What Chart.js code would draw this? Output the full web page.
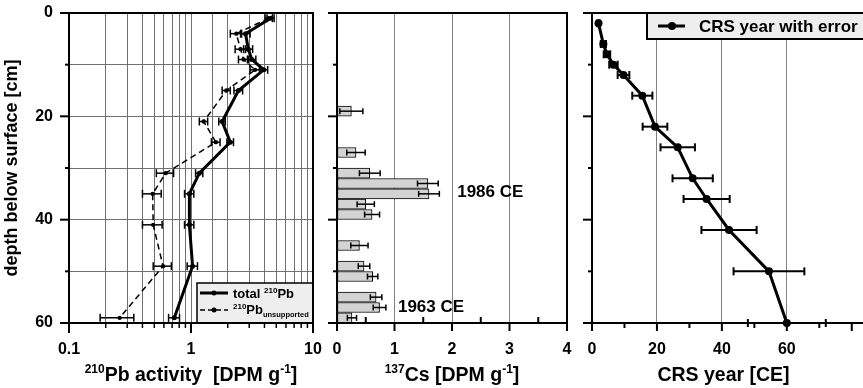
<!DOCTYPE html>
<html>
<head>
<meta charset="utf-8">
<script src="https://cdn.jsdelivr.net/npm/chart.js@4.4.0/dist/chart.umd.min.js"></script>
<style>
  html, body { margin: 0; padding: 0; background: #fff; overflow: hidden; }
  #wrap { position: relative; width: 863px; height: 388px; overflow: hidden; background: #fff; }
  canvas { position: absolute; left: 0; top: 0; }
</style>
</head>
<body>
<div id="wrap">
  <canvas id="pb" width="863" height="388"></canvas>
  <canvas id="cs" width="863" height="388"></canvas>
  <canvas id="crs" width="880" height="388"></canvas>
</div>
<script>
// 210Pb profile (depth in cm, activity in DPM/g)
const pbDepth = [1, 4, 7, 9, 11, 15, 21, 25, 31, 35, 41, 49, 59];
const pbTotal = [4.5, 2.8, 2.95, 3.15, 3.95, 2.45, 1.8, 2.1, 1.17, 0.97, 0.97, 1.03, 0.73];
const pbTotalErr = [0.3, 0.25, 0.25, 0.25, 0.3, 0.2, 0.11, 0.13, 0.08, 0.085, 0.085, 0.1, 0.075];
const pbUnsup = [4.35, 2.35, 2.55, 2.7, 3.35, 1.95, 1.27, 1.6, 0.62, 0.485, 0.49, 0.59, 0.26];
const pbUnsupErr = [0.3, 0.25, 0.25, 0.25, 0.3, 0.15, 0.1, 0.13, 0.1, 0.085, 0.09, 0.1, 0.08];
const pbLabels = [0.1, 1, 10];

// 137Cs
const csDepth = [19, 27, 31, 33, 35, 37, 39, 45, 49, 51, 55, 57, 59];
const csValue = [0.25, 0.33, 0.57, 1.58, 1.6, 0.5, 0.61, 0.39, 0.47, 0.62, 0.68, 0.74, 0.26];
const csErr = [0.2, 0.16, 0.18, 0.18, 0.18, 0.15, 0.13, 0.15, 0.1, 0.09, 0.1, 0.11, 0.08];
const csMarkers = ['1986 CE', '1963 CE'];
const csMarkerX = [2.09, 1.06];
const csMarkerDepth = [34.8, 56.9];

// CRS model years
const crsDepth = [2, 6, 8, 10, 12, 16, 22, 26, 32, 36, 42, 50, 60];
const crsYear = [2, 3.5, 4.6, 6.6, 9.7, 15.5, 19.4, 26.4, 31, 35.3, 42.2, 54.5, 60];
const crsErr = [0.3, 0.8, 1, 1.3, 1.8, 3.1, 3.8, 5.3, 6.2, 7.1, 8.5, 10.9, 12];

const depthMajor = [0, 20, 40, 60];
const depthMinor = [10, 30, 50];

const FONT = '"Liberation Sans", Arial, Helvetica, sans-serif';
Chart.defaults.font.family = FONT;
Chart.defaults.font.weight = 'bold';
Chart.defaults.color = '#000';
Chart.defaults.animation = false;

function seg(ctx, x1, y1, x2, y2, w) {
  ctx.lineWidth = w;
  ctx.beginPath();
  ctx.moveTo(x1, y1);
  ctx.lineTo(x2, y2);
  ctx.stroke();
}

// draws text made of runs [text, size, dy]
function rich(ctx, runs, x, y, align) {
  let w = 0;
  runs.forEach(r => { ctx.font = 'bold ' + r[1] + 'px ' + FONT; w += ctx.measureText(r[0]).width; });
  let cx = align === 'center' ? x - w / 2 : x;
  ctx.textBaseline = 'alphabetic';
  ctx.textAlign = 'left';
  ctx.fillStyle = '#000';
  runs.forEach(r => {
    ctx.font = 'bold ' + r[1] + 'px ' + FONT;
    ctx.fillText(r[0], cx, y + (r[2] || 0));
    cx += ctx.measureText(r[0]).width;
  });
}

function drawErrors(chart, onTop) {
  const { ctx, scales: { x, y } } = chart;
  chart.data.datasets.forEach(ds => {
    if (!ds.errors || !!ds.errorsOnTop !== onTop) return;
    ctx.save();
    ctx.strokeStyle = '#000';
    const c = ds.capSize || 4;
    ds.data.forEach((p, i) => {
      const e = ds.errors[i];
      const x1 = x.getPixelForValue(p.x - e);
      const x2 = x.getPixelForValue(p.x + e);
      const py = y.getPixelForValue(p.y);
      seg(ctx, x1, py, x2, py, ds.errorWidth || 1.5);
      seg(ctx, x1, py - c, x1, py + c, ds.errorWidth || 1.5);
      seg(ctx, x2, py - c, x2, py + c, ds.errorWidth || 1.5);
    });
    ctx.restore();
  });
}

const frame = {
  id: 'frame',
  beforeDatasetsDraw(chart) { drawErrors(chart, false); },
  afterDatasetsDraw(chart) { drawErrors(chart, true); },
  afterDraw(chart, args, opts) {
    const { ctx, chartArea: a, scales: { x, y } } = chart;
    ctx.save();
    ctx.strokeStyle = '#000';
    if (opts.extra) opts.extra(chart, ctx, a, x, y);
    const b = opts.borders || {};
    if (b.top) seg(ctx, a.left, a.top, a.right, a.top, 2);
    if (b.right) seg(ctx, a.right, a.top - 1, a.right, a.bottom + 1, 2);
    seg(ctx, a.left, a.top - 1, a.left, a.bottom + 1, 2);
    seg(ctx, a.left, a.bottom, a.right, a.bottom, 2);
    (opts.xTicks || []).forEach(t => {
      const px = x.getPixelForValue(t[0]);
      seg(ctx, px, a.bottom, px, a.bottom + t[1], t[2] || 2);
    });
    depthMajor.forEach(v => { const py = y.getPixelForValue(v); seg(ctx, a.left, py, a.left - 9, py, 2); });
    depthMinor.forEach(v => { const py = y.getPixelForValue(v); seg(ctx, a.left, py, a.left - 4, py, 2); });
    if (opts.title) rich(ctx, opts.title, x.getPixelForValue(opts.titleAt), a.bottom + 58, 'center');
    ctx.restore();
  }
};

function fixHeight(s) { s.height = 65; }

// ---------- 210Pb panel ----------
const pbXTicks = [];
[0.1, 1].forEach(dec => {
  for (let k = 1; k < 10; k++) pbXTicks.push([dec * k, k === 1 ? 10 : 5, k === 1 ? 2 : 1.5]);
});
pbXTicks.push([10, 10, 2]);

new Chart(document.getElementById('pb'), {
  type: 'scatter',
  data: {
    datasets: [
      {
        label: 'total 210Pb',
        data: pbDepth.map((d, i) => ({ x: pbTotal[i], y: d })),
        showLine: true, borderColor: '#000', backgroundColor: '#000',
        borderWidth: 3, pointRadius: 2.5, pointBorderWidth: 0,
        errors: pbTotalErr, capSize: 4, errorWidth: 1.5, clip: false
      },
      {
        label: '210Pb unsupported',
        data: pbDepth.map((d, i) => ({ x: pbUnsup[i], y: d })),
        showLine: true, borderColor: '#000', backgroundColor: '#000',
        borderWidth: 1.5, borderDash: [6, 4], pointRadius: 2.2, pointBorderWidth: 0,
        errors: pbUnsupErr, capSize: 4, errorWidth: 1.5, clip: false
      }
    ]
  },
  options: {
    responsive: false,
    layout: { padding: { left: 0, top: 13, right: 550, bottom: 0 } },
    plugins: {
      legend: { display: false },
      tooltip: { enabled: false },
      frame: {
        borders: { top: true, right: true },
        xTicks: pbXTicks,
        titleAt: 1,
        title: [['210', 12, -8], ['Pb activity  [DPM g', 19.5], ['-1', 12, -8], [']', 19.5]],
        extra(chart, ctx, a) {
          // legend box
          const l = a.right - 116, t = a.bottom - 40;
          ctx.fillStyle = '#eeeeee';
          ctx.fillRect(l, t, a.right - l, a.bottom - t);
          ctx.lineWidth = 1.5;
          ctx.strokeRect(l, t, a.right - l, a.bottom - t);
          const r1 = t + 10, r2 = t + 27;
          seg(ctx, l + 3, r1, l + 31, r1, 3);
          ctx.save();
          ctx.setLineDash([5, 3]);
          seg(ctx, l + 3, r2, l + 31, r2, 1.5);
          ctx.restore();
          ctx.fillStyle = '#000';
          [r1, r2].forEach(r => { ctx.beginPath(); ctx.arc(l + 17, r, 2.5, 0, Math.PI * 2); ctx.fill(); });
          rich(ctx, [['total ', 13], ['210', 8, -5], ['Pb', 13]], l + 36, r1 + 5);
          rich(ctx, [['210', 8, -5], ['Pb', 13], ['unsupported', 7.5, 3]], l + 36, r2 + 4);
        }
      }
    },
    scales: {
      x: {
        type: 'logarithmic', min: 0.1, max: 10,
        afterFit: fixHeight,
        grid: { color: '#707070', drawTicks: false },
        border: { display: false },
        ticks: {
          autoSkip: false, maxRotation: 0, padding: 17, font: { size: 16 },
          callback: v => pbLabels.some(p => Math.abs(p - v) < 1e-9) ? String(v) : ''
        }
      },
      y: {
        type: 'linear', reverse: true, min: 0, max: 60,
        afterFit: s => { s.width = 69; },
        grid: { color: '#707070', drawTicks: true, tickLength: 14, tickColor: 'rgba(0,0,0,0)' },
        border: { display: false },
        ticks: { stepSize: 10, padding: 2, font: { size: 16 }, callback: v => v % 20 === 0 ? v : '' },
        title: { display: true, text: 'depth below surface [cm]', font: { size: 18, weight: 'bold' }, padding: { top: 1, bottom: 0 } }
      }
    }
  },
  plugins: [frame]
});

// ---------- 137Cs panel ----------
const csXTicks = [];
for (let v = 0; v <= 4; v++) csXTicks.push([v, 8, 2]);
for (let v = 0.5; v < 4; v += 1) csXTicks.push([v, -6, 2]);

new Chart(document.getElementById('cs'), {
  type: 'bar',
  data: {
    datasets: [{
      label: '137Cs',
      data: csDepth.map((d, i) => ({ x: csValue[i], y: d })),
      backgroundColor: '#d3d3d3', borderColor: '#000', borderWidth: 1,
      borderSkipped: false, barThickness: 10,
      errors: csErr, errorsOnTop: true, capSize: 3, errorWidth: 1.5, clip: false
    }]
  },
  options: {
    responsive: false,
    indexAxis: 'y',
    layout: { padding: { left: 317, top: 13, right: 296, bottom: 0 } },
    plugins: {
      legend: { display: false },
      tooltip: { enabled: false },
      frame: {
        borders: { top: true, right: true },
        xTicks: csXTicks,
        titleAt: 2,
        title: [['137', 12, -8], ['Cs [DPM g', 19.5], ['-1', 12, -8], [']', 19.5]],
        extra(chart, ctx, a, x, y) {
          ctx.fillStyle = '#000';
          ctx.font = 'bold 17px ' + FONT;
          ctx.textAlign = 'left';
          ctx.textBaseline = 'middle';
          csMarkers.forEach((m, i) => ctx.fillText(m, x.getPixelForValue(csMarkerX[i]), y.getPixelForValue(csMarkerDepth[i])));
        }
      }
    },
    scales: {
      x: {
        type: 'linear', min: 0, max: 4,
        afterFit: fixHeight,
        grid: { color: '#808080', drawTicks: false },
        border: { display: false },
        ticks: { stepSize: 1, maxRotation: 0, padding: 17, font: { size: 16 } }
      },
      y: {
        type: 'linear', reverse: true, min: 0, max: 60, offset: false,
        afterFit: s => { s.width = 20; },
        grid: { display: false, offset: false },
        border: { display: false },
        ticks: { display: false }
      }
    }
  },
  plugins: [frame]
});

// ---------- CRS panel ----------
const crsXTicks = [];
for (let v = 0; v <= 80; v += 20) crsXTicks.push([v, 8, 2]);
for (let v = 10; v < 80; v += 20) crsXTicks.push([v, 5, 2]);

new Chart(document.getElementById('crs'), {
  type: 'scatter',
  data: {
    datasets: [{
      label: 'CRS year with error',
      data: crsDepth.map((d, i) => ({ x: crsYear[i], y: d })),
      showLine: true, borderColor: '#000', backgroundColor: '#000',
      borderWidth: 3, pointRadius: 4, pointBorderWidth: 0,
      errors: crsErr, capSize: 4, errorWidth: 2, clip: false
    }]
  },
  options: {
    responsive: false,
    layout: { padding: { left: 572, top: 13, right: 12, bottom: 0 } },
    plugins: {
      legend: { display: false },
      tooltip: { enabled: false },
      frame: {
        borders: { top: true, right: false },
        xTicks: crsXTicks,
        titleAt: 40.5,
        title: [['CRS year [CE]', 19.5]],
        extra(chart, ctx, a) {
          const l = a.left + 55, t = a.top;
          ctx.fillStyle = '#eeeeee';
          ctx.fillRect(l, t, 400, 26);
          ctx.lineWidth = 2;
          ctx.strokeRect(l, t, 400, 26);
          seg(ctx, l + 11, t + 13, l + 38, t + 13, 3);
          ctx.fillStyle = '#000';
          ctx.beginPath(); ctx.arc(l + 25, t + 13, 4, 0, Math.PI * 2); ctx.fill();
          ctx.font = 'bold 17px ' + FONT;
          ctx.textAlign = 'left';
          ctx.textBaseline = 'middle';
          ctx.fillText(chart.data.datasets[0].label, l + 52, t + 14);
        }
      }
    },
    scales: {
      x: {
        type: 'linear', min: 0, max: 85,
        afterFit: fixHeight,
        afterBuildTicks: s => { s.ticks = s.ticks.filter(t => t.value % 20 === 0); },
        grid: { color: '#808080', drawTicks: false },
        border: { display: false },
        ticks: { stepSize: 20, maxRotation: 0, padding: 17, font: { size: 16 } }
      },
      y: {
        type: 'linear', reverse: true, min: 0, max: 60,
        afterFit: s => { s.width = 20; },
        grid: { display: false },
        border: { display: false },
        ticks: { display: false }
      }
    }
  },
  plugins: [frame]
});
</script>
</body>
</html>
